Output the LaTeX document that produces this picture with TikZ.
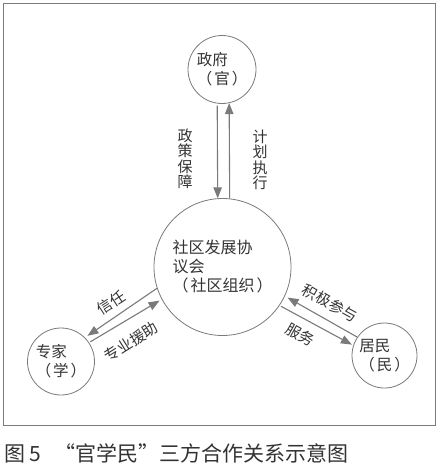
\documentclass[tikz,border=0pt]{standalone}
\usepackage{fontspec}
\setmainfont{Noto Sans CJK SC}
\usetikzlibrary{arrows.meta}
\definecolor{linegray}{HTML}{7A7A7A}
\definecolor{textgray}{HTML}{333333}
\begin{document}
\begin{tikzpicture}[x=1pt,y=-1pt,
  party/.style={circle,draw=linegray,line width=0.8pt,inner sep=0pt,align=left,
    text=textgray,font=\fontsize{15.5}{19}\selectfont},
  flow/.style={draw=linegray,line width=1.1pt,
    -{Triangle[length=11pt,width=8.5pt]}},
  lbl/.style={text=textgray,font=\fontsize{15}{15.5}\selectfont,inner sep=0pt},
  vlbl/.style={lbl,align=center},
]
\useasboundingbox (0,0) rectangle (440,469);
\draw[linegray,line width=0.9pt] (3.5,3) rectangle (435,425.5);

\node[party,minimum size=68pt] (gov) at (222,69.5) {政府\\（\kern2pt官\kern2pt）};
\node[party,minimum size=137pt,font=\fontsize{16}{19}\selectfont] (org) at (222.5,267) {社区发展协\\议会\\（\kern2pt社区组织\kern2pt）};
\node[party,minimum size=67pt] (exp) at (61,361.5) {专家\\（\kern2pt学\kern2pt）};
\node[party,minimum size=65pt] (res) at (384.5,355.5) {居民\\（\kern2pt民\kern2pt）};

% government <-> organisation
\draw[flow,shorten <=2pt] (gov.-98.5) -- (org.94.6);
\draw[flow] (org.84.6) -- (gov.-78.1);
\node[vlbl] (l1) at (185,159) {政\\策\\保\\障};
\node[vlbl] (l2) at (260,160) {计\\划\\执\\行};

% organisation <-> experts
\draw[flow,shorten >=3pt] (org.198) -- (exp.45.5);
\draw[flow,shorten <=1.5pt,shorten >=2.5pt] (exp.34) -- (org.208.5);
\node[lbl,rotate=33] (l3) at (111,303) {信任};
\node[lbl,rotate=32] (l4) at (131,342) {专业援助};

% residents <-> organisation
\draw[flow,shorten >=3pt] (res.146) -- (org.-25.7);
\draw[flow,shorten <=1.5pt,shorten >=1.5pt] (org.-34.8) -- (res.162);
\node[lbl,rotate=-29] (l5) at (330,303) {积极参与};
\node[lbl,rotate=-29] (l6) at (300,335) {服务};

\node[anchor=west,inner sep=0pt,text=textgray,font=\fontsize{21}{21}\selectfont] (cap) at (4,453) {图 5\hspace{0.6em}“官学民”三方合作关系示意图};
\end{tikzpicture}
\end{document}
